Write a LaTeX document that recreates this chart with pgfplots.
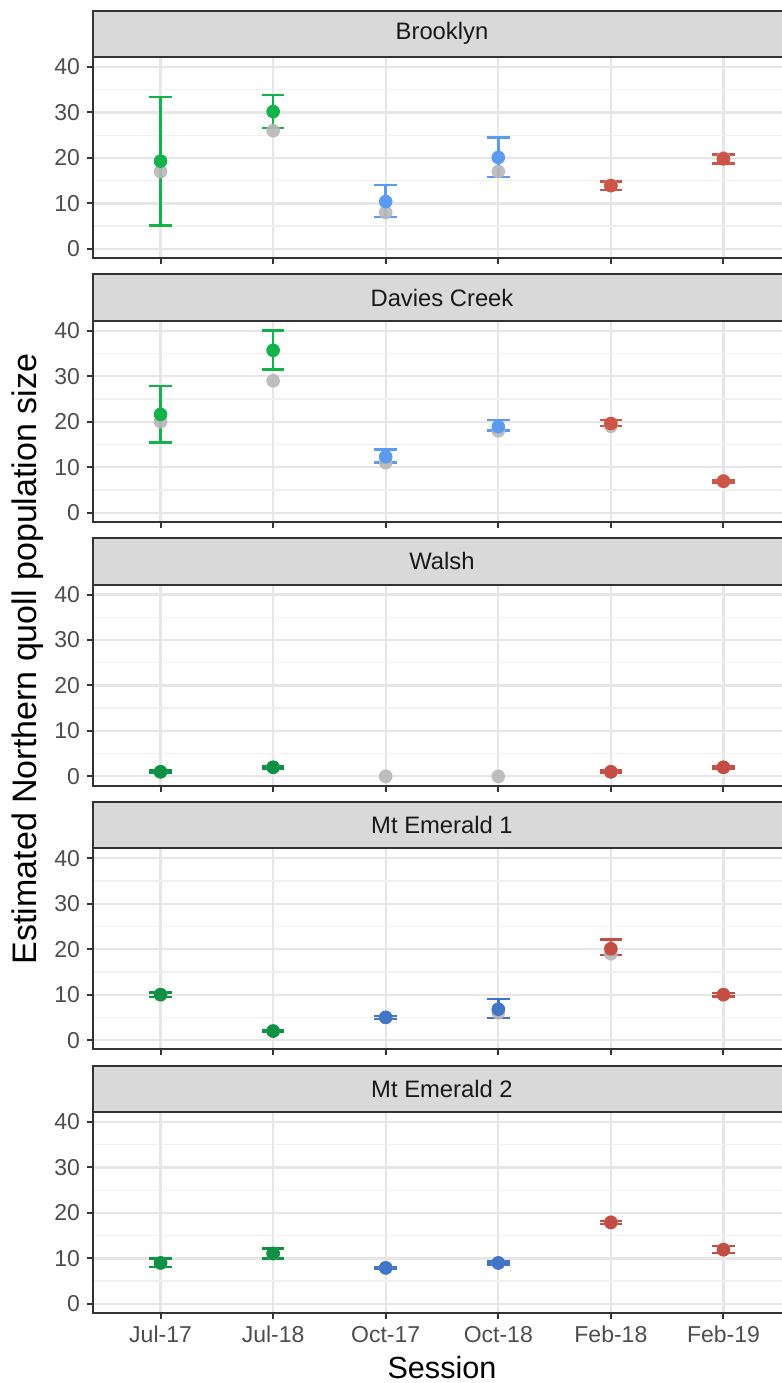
\documentclass[border=0pt]{standalone}
\usepackage{fontspec}
\setmainfont{Liberation Sans}
\usepackage{pgfplots}
\pgfplotsset{compat=1.18}

\definecolor{gridmaj}{HTML}{E6E6E6}
\definecolor{gridmin}{HTML}{F0F0F0}
\definecolor{frame}{HTML}{333333}
\definecolor{stripfill}{HTML}{D9D9D9}
\definecolor{ticklab}{HTML}{4D4D4D}
\definecolor{obs}{HTML}{B8B8B8}
\definecolor{grnA}{HTML}{14B24A}
\definecolor{bluA}{HTML}{5B9BF0}
\definecolor{redA}{HTML}{CC5548}
\definecolor{grnB}{HTML}{0E9142}
\definecolor{bluB}{HTML}{4175C8}
\definecolor{redB}{HTML}{C44E44}

\pgfplotsset{
  panel/.style={
    scale only axis, width=349pt, height=100.5pt,
    anchor=south west,
    xmin=0.4, xmax=6.6, ymin=-2.01, ymax=42.2,
    xtick={1,...,6}, ytick={0,10,20,30,40}, minor ytick={5,15,25,35},
    xticklabels={},
    grid=both,
    major grid style={gridmaj, line width=1.1pt},
    minor grid style={gridmin, line width=0.7pt},
    axis line style={frame, line width=1pt},
    tick style={frame, line width=1pt},
    major tick length=3pt, minor tick length=0pt,
    tick align=outside,
    xtick pos=bottom, ytick pos=left,
    /pgf/number format/assume math mode=true,
    yticklabel style={font=\fontsize{11.5}{12}\selectfont, text=ticklab},
    xticklabel style={font=\fontsize{11.5}{12}\selectfont, text=ticklab},
  },
  counts/.style={only marks, mark=*, mark size=3.2pt, color=obs,
    mark options={draw=obs, fill=obs, opacity=0.9}},
  est/.style={only marks, mark=*, mark size=3.2pt, color=#1,
    mark options={draw=#1, fill=#1},
    error bars/.cd, y dir=both, y explicit,
      error bar style={line width=1.25pt, #1},
      error mark=|,
      error mark options={line width=1.25pt, mark size=5.65pt, #1}},
}

\newcommand{\strip}[2]{%
  \draw[fill=stripfill, draw=frame, line width=1pt]
    (#1.north west) rectangle ([yshift=23.25pt]#1.north east);
  \node[font=\fontsize{11.9}{13}\selectfont, text=black!90, anchor=center]
    at ([yshift=11.6pt]#1.north) {#2};
}

\begin{document}
\begin{tikzpicture}
\useasboundingbox (0,0) rectangle (391pt,-691.5pt);

% Brooklyn
\begin{axis}[panel, name=p1, at={(46.5pt,-129pt)}]
\addplot[counts] coordinates {(1,17) (2,26) (3,8) (4,17) (5,14) (6,20)};
\addplot[est=grnA] coordinates {(1,19.3) += (0,14.1) -= (0,14.2) (2,30.2) += (0,3.6) -= (0,3.6)};
\addplot[est=bluA] coordinates {(3,10.4) += (0,3.6) -= (0,3.4) (4,20.1) += (0,4.4) -= (0,4.3)};
\addplot[est=redA] coordinates {(5,13.9) += (0,0.9) -= (0,1.0) (6,19.8) += (0,1.0) -= (0,1.0)};
\end{axis}
\strip{p1}{Brooklyn}

% Davies Creek
\begin{axis}[panel, name=p2, at={(46.5pt,-260.875pt)}]
\addplot[counts] coordinates {(1,20) (2,29) (3,11) (4,18) (5,19) (6,7)};
\addplot[est=grnA] coordinates {(1,21.6) += (0,6.3) -= (0,6.2) (2,35.7) += (0,4.4) -= (0,4.2)};
\addplot[est=bluA] coordinates {(3,12.3) += (0,1.6) -= (0,1.3) (4,18.9) += (0,1.5) -= (0,0.8)};
\addplot[est=redA] coordinates {(5,19.6) += (0,0.8) -= (0,0.5) (6,6.9) += (0,0.3) -= (0,0.3)};
\end{axis}
\strip{p2}{Davies Creek}

% Walsh
\begin{axis}[panel, name=p3, at={(46.5pt,-392.75pt)}]
\addplot[counts] coordinates {(1,1) (2,2) (3,0) (4,0) (5,1) (6,2)};
\addplot[est=grnB] coordinates {(1,1) += (0,0.3) -= (0,0.3) (2,2) += (0,0.3) -= (0,0.3)};
\addplot[est=redB] coordinates {(5,1) += (0,0.3) -= (0,0.3) (6,2) += (0,0.3) -= (0,0.3)};
\end{axis}
\strip{p3}{Walsh}

% Mt Emerald 1
\begin{axis}[panel, name=p4, at={(46.5pt,-524.625pt)}]
\addplot[counts] coordinates {(1,10) (2,2) (3,5) (4,6) (5,19) (6,10)};
\addplot[est=grnB] coordinates {(1,10) += (0,0.5) -= (0,0.5) (2,2) += (0,0.2) -= (0,0.2)};
\addplot[est=bluB] coordinates {(3,5) += (0,0.3) -= (0,0.3) (4,6.8) += (0,2.3) -= (0,1.9)};
\addplot[est=redB] coordinates {(5,20.1) += (0,2.0) -= (0,1.4) (6,10) += (0,0.4) -= (0,0.4)};
\end{axis}
\strip{p4}{Mt Emerald 1}

% Mt Emerald 2
\begin{axis}[panel, name=p5, at={(46.5pt,-656.5pt)},
  xticklabels={Jul-17,Jul-18,Oct-17,Oct-18,Feb-18,Feb-19}]
\addplot[counts] coordinates {(1,9) (2,11) (3,8) (4,9) (5,18) (6,12)};
\addplot[est=grnB] coordinates {(1,9.0) += (0,1.0) -= (0,0.9) (2,11.1) += (0,1.1) -= (0,1.1)};
\addplot[est=bluB] coordinates {(3,7.9) += (0,0.2) -= (0,0.2) (4,9.0) += (0,0.3) -= (0,0.3)};
\addplot[est=redB] coordinates {(5,17.9) += (0,0.3) -= (0,0.3) (6,11.9) += (0,0.8) -= (0,0.7)};
\end{axis}
\strip{p5}{Mt Emerald 2}

% axis titles
\node[font=\fontsize{15.3}{17}\selectfont, anchor=base] at (221pt,-689pt) {Session};
\node[font=\fontsize{17}{19}\selectfont, rotate=90, anchor=center] at (14pt,-329.5pt)
  {Estimated Northern quoll population size};
\end{tikzpicture}
\end{document}
